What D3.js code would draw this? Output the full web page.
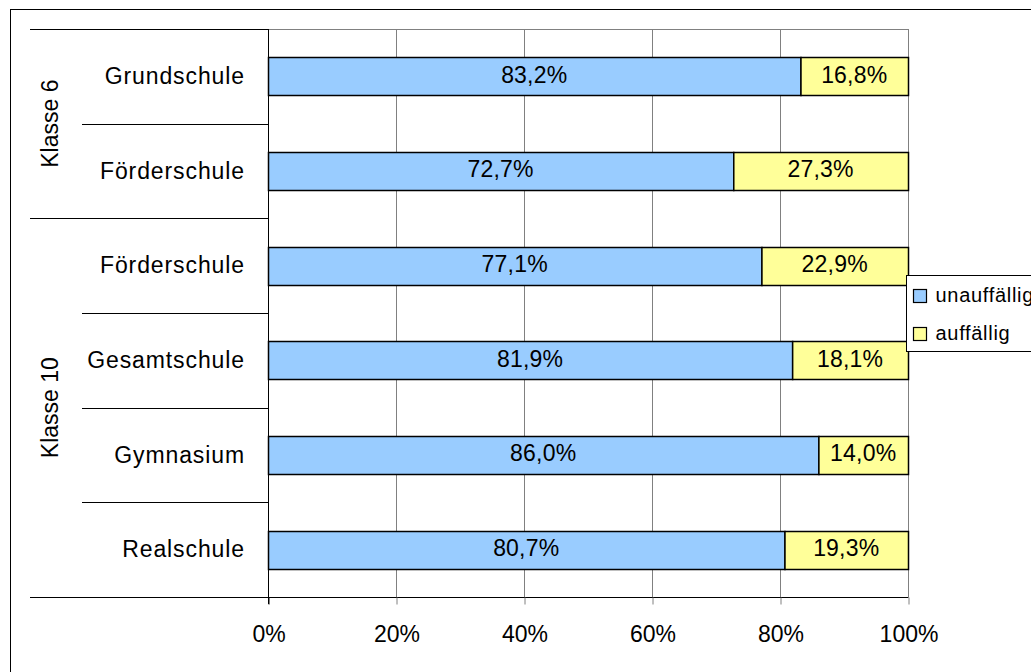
<!DOCTYPE html>
<html>
<head>
<meta charset="utf-8">
<script src="https://cdn.jsdelivr.net/npm/d3@7"></script>
<style>
  html, body { margin: 0; padding: 0; background: #fff; }
  svg { display: block; font-family: "Liberation Sans", Arial, sans-serif; }
</style>
</head>
<body>
<svg id="chart" width="1031" height="672"></svg>
<script>
// Schools (top to bottom) and their grade group
const schools = ["Grundschule", "Förderschule", "Förderschule", "Gesamtschule", "Gymnasium", "Realschule"];
const groups = ["Klasse 6", "Klasse 6", "Klasse 10", "Klasse 10", "Klasse 10", "Klasse 10"];
const unauffaellig = [83.2, 72.7, 77.1, 81.9, 86.0, 80.7];
const auffaellig = [16.8, 27.3, 22.9, 18.1, 14.0, 19.3];
const seriesNames = ["unauffällig", "auffällig"];
const seriesColors = ["#99CCFF", "#FFFF99"];
const tickValues = [0, 20, 40, 60, 80, 100];

const svg = d3.select("#chart");
const W = 1031, H = 672;
const plot = { left: 268, right: 908, top: 29, bottom: 597 };
const FS = 23;

// outer chart frame
svg.append("rect")
  .attr("x", 10.5).attr("y", 9.5)
  .attr("width", W + 20).attr("height", H + 20)
  .attr("fill", "none").attr("stroke", "#000").attr("stroke-width", 1);

const x = d3.scaleLinear().domain([0, 100]).range([plot.left, plot.right]);
const rows = d3.range(schools.length);
const y = d3.scaleBand().domain(rows).range([plot.top, plot.bottom]).paddingInner(0.6).paddingOuter(0.3);
const band = (plot.bottom - plot.top) / schools.length;

// vertical gridlines
svg.append("g").selectAll("line").data(tickValues.slice(1)).join("line")
  .attr("x1", d => Math.round(x(d)) + 0.5).attr("x2", d => Math.round(x(d)) + 0.5)
  .attr("y1", plot.top).attr("y2", plot.bottom)
  .attr("stroke", "#808080").attr("stroke-width", 1);

// top edge of plot area
svg.append("line")
  .attr("x1", plot.left).attr("x2", plot.right)
  .attr("y1", plot.top + 0.5).attr("y2", plot.top + 0.5)
  .attr("stroke", "#808080");

// stacked data
const stackData = rows.map(i => ({ i, unauffaellig: unauffaellig[i], auffaellig: auffaellig[i] }));
const stack = d3.stack().keys(["unauffaellig", "auffaellig"])(stackData);

const layers = svg.append("g").selectAll("g").data(stack).join("g")
  .attr("fill", (d, k) => seriesColors[k]);

layers.selectAll("rect").data(d => d).join("rect")
  .attr("x", d => x(d[0]) + 0.5)
  .attr("width", d => x(d[1]) - x(d[0]))
  .attr("y", d => Math.round(y(d.data.i)) + 0.5)
  .attr("height", Math.round(y.bandwidth()))
  .attr("stroke", "#000").attr("stroke-width", 1.5);

const fmt = v => v.toFixed(1).replace(".", ",") + "%";
layers.selectAll("text").data(d => d.map(p => ({ p, key: d.key }))).join("text")
  .attr("x", d => (x(d.p[0]) + x(d.p[1])) / 2)
  .attr("y", d => y(d.p.data.i) + y.bandwidth() / 2)
  .attr("dy", "0.28em")
  .attr("text-anchor", "middle")
  .attr("fill", "#000")
  .attr("font-size", FS)
  .attr("letter-spacing", 0.2)
  .text(d => fmt(d.p.data[d.key]));

// category axis (left)
svg.append("line")
  .attr("x1", plot.left + 0.5).attr("x2", plot.left + 0.5)
  .attr("y1", plot.top).attr("y2", plot.bottom + 7)
  .attr("stroke", "#000");

// separators between rows; longer where grade group changes
const seps = d3.range(schools.length + 1);
svg.append("g").selectAll("line").data(seps).join("line")
  .attr("x1", i => (i === 0 || i === schools.length || groups[i] !== groups[i - 1]) ? 30 : 82)
  .attr("x2", plot.left)
  .attr("y1", i => Math.round(plot.top + i * band) + 0.5)
  .attr("y2", i => Math.round(plot.top + i * band) + 0.5)
  .attr("stroke", "#000");

// school labels
svg.append("g").selectAll("text").data(rows).join("text")
  .attr("x", 245)
  .attr("y", i => y(i) + y.bandwidth() / 2)
  .attr("dy", "0.33em")
  .attr("text-anchor", "end")
  .attr("font-size", FS)
  .attr("letter-spacing", 0.9)
  .text(i => schools[i]);

// grade group labels
const groupNames = Array.from(new Set(groups));
const groupSpans = groupNames.map(g => {
  const idx = rows.filter(i => groups[i] === g);
  return { g, y0: plot.top + idx[0] * band, y1: plot.top + (idx[idx.length - 1] + 1) * band };
});
svg.append("g").selectAll("text").data(groupSpans).join("text")
  .attr("transform", d => `translate(58,${(d.y0 + d.y1) / 2}) rotate(-90)`)
  .attr("text-anchor", "middle")
  .attr("font-size", FS)
  .text(d => d.g);

// value axis (bottom)
const xAxis = svg.append("g")
  .attr("transform", `translate(0.5,${plot.bottom + 0.5})`)
  .call(d3.axisBottom(x).tickValues(tickValues).tickFormat(d => d + "%").tickSize(7).tickPadding(21));
xAxis.select(".domain").attr("stroke", "#000").attr("d", `M${plot.left},0H${plot.right}`);
xAxis.selectAll(".tick line").attr("stroke", "#808080");
xAxis.selectAll(".tick").filter(d => d === 0).select("line").attr("stroke", "#000");
xAxis.selectAll("text").attr("font-size", FS).attr("font-family", "Liberation Sans, Arial, sans-serif").attr("fill", "#000");

// legend
const lg = svg.append("g").attr("transform", "translate(906.5,275.5)");
lg.append("rect").attr("width", 140).attr("height", 76).attr("fill", "#fff").attr("stroke", "#000");
const items = lg.selectAll("g").data(seriesNames).join("g")
  .attr("transform", (d, k) => `translate(7,${20 + k * 38})`);
items.append("rect").attr("x", 0).attr("y", -6).attr("width", 13).attr("height", 13)
  .attr("fill", (d, k) => seriesColors[k]).attr("stroke", "#000").attr("stroke-width", 1.2);
items.append("text").attr("x", 22).attr("y", 0).attr("dy", "0.3em")
  .attr("font-size", 20).attr("letter-spacing", 0.7).text(d => d);
</script>
</body>
</html>
